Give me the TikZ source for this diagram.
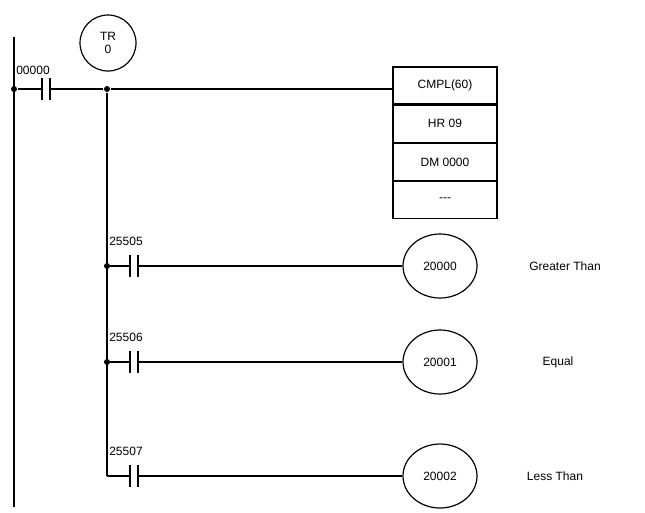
\documentclass[tikz,border=0pt]{standalone}
\usepackage{fontspec}
\setmainfont{Liberation Sans}
\usetikzlibrary{shapes.geometric}
\begin{document}
\begin{tikzpicture}[x=1pt,y=-1pt,line width=1.2pt,
  every node/.style={font=\fontsize{12}{14}\selectfont},
  dot/.style={circle,fill,inner sep=0pt,minimum size=6pt},
  coil/.style={ellipse,draw,minimum width=74pt,minimum height=64pt,inner sep=0pt},
  cell/.style={draw,minimum width=104pt,minimum height=37pt,inner sep=0pt}]
\useasboundingbox (0,0) rectangle (645,512);
\draw (14,37) coordinate (rt) -- (14,507) coordinate (rb);
% main rung
\node[dot] (d0) at (14,89) {};
\coordinate (c0a) at (42,89); \coordinate (c0b) at (50,89);
\draw (d0) -- (c0a) (42,78) -- (42,100) (50,78) -- (50,100);
\node at (33,70) {00000};
\node[circle,draw,minimum size=56pt,inner sep=0pt,align=center,font=\fontsize{12}{13}\selectfont] (tr) at (108,43) {TR\\0};
\node[dot] (d1) at (107,89) {};
\draw (c0b) -- (d1);
\node[cell] (b1) at (445,85.5) {CMPL(60)};
\node[cell,anchor=north] (b2) at (b1.south) {HR 09};
\node[cell,anchor=north] (b3) at (b2.south) {DM 0000};
\node[cell,anchor=north] (b4) at (b3.south) {{-}{-}{-}};
\draw (d1) -- (b1.west |- d1);
\draw (d1) -- (107,476) coordinate (corner);
% rungs
\foreach \y/\lab/\out/\txt/\dx in {266/25505/20000/Greater Than/565, 362/25506/20001/Equal/558, 476/25507/20002/Less Than/555}{
  \coordinate (r) at (107,\y);
  \draw (r) -- (130,\y) (130,\y-11) -- (130,\y+11) (138,\y-11) -- (138,\y+11);
  \node at (126,\y-25) {\lab};
  \node[coil] (o) at (440,\y) {\out};
  \draw (138,\y) -- (o.west);
  \node at (\dx,\y) {\txt};
}
\node[dot] at (107,266) {};
\node[dot] at (107,362) {};
\end{tikzpicture}
\end{document}
